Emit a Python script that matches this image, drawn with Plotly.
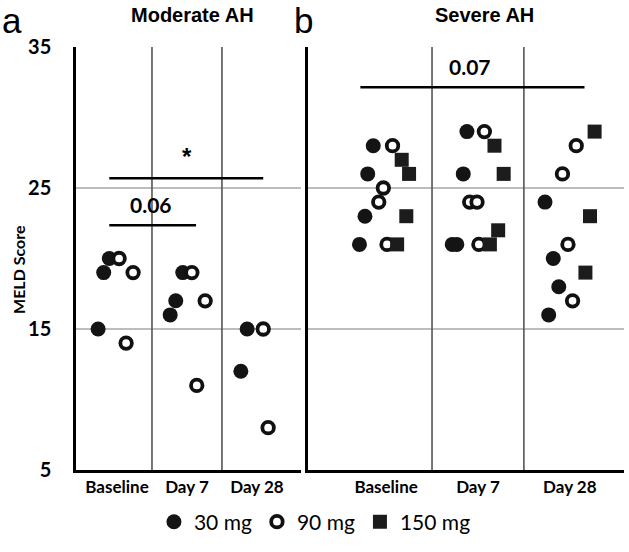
import plotly.graph_objects as go

timepoints = ["Baseline", "Day 7", "Day 28"]
doses = ["30 mg", "90 mg", "150 mg"]
y_ticks = [5, 15, 25, 35]

# MELD scores per timepoint (Baseline, Day 7, Day 28)
moderate_30mg = [[20, 19, 15], [19, 17, 16], [15, 12]]
moderate_90mg = [[20, 19, 14], [19, 17, 11], [15, 8]]

severe_30mg = [[28, 26, 23, 21], [29, 26, 21, 21], [24, 20, 18, 16]]
severe_90mg = [[28, 25, 24, 21], [29, 24, 24, 21], [28, 26, 21, 17]]
severe_150mg = [[27, 26, 23, 21], [28, 26, 22, 21], [29, 23, 19]]

# horizontal jitter within each timepoint
moderate_30mg_jitter = [[-0.11, -0.19, -0.27], [-0.06, -0.16, -0.24], [-0.14, -0.23]]
moderate_90mg_jitter = [[0.03, 0.23, 0.13], [0.07, 0.26, 0.14], [0.09, 0.16]]
severe_30mg_jitter = [[-0.14, -0.20, -0.23, -0.29], [-0.12, -0.16, -0.28, -0.23], [-0.27, -0.18, -0.12, -0.23]]
severe_90mg_jitter = [[0.07, -0.03, -0.08, 0.01], [0.07, -0.09, -0.01, 0.01], [0.07, -0.08, -0.02, 0.03]]
severe_150mg_jitter = [[0.17, 0.25, 0.22, 0.12], [0.18, 0.28, 0.22, 0.13], [0.27, 0.22, 0.17]]

# significance annotations: label, line start/end (in timepoint units), line level
bracket_labels = ["0.06", "*", "0.07"]
bracket_start = [-0.11, -0.11, -0.28]
bracket_end = [1.13, 2.09, 2.16]
bracket_level = [22.35, 25.7, 32.14]
bracket_label_x = [0.49, 1.0, 0.91]
bracket_axes = [("x", "y"), ("x", "y"), ("x2", "y2")]


def flatten(values, jitter):
    xs, ys = [], []
    for i, (vals, jit) in enumerate(zip(values, jitter)):
        for v, j in zip(vals, jit):
            xs.append(i + j)
            ys.append(v)
    return xs, ys


FILLED = dict(symbol="circle", size=15, color="#141414", line=dict(width=0))
OPEN = dict(symbol="circle", size=11.5, color="white", line=dict(color="#111", width=3.8))
SQUARE = dict(symbol="square", size=14, color="#1c1c1c", line=dict(width=0))

fig = go.Figure()

panels = [
    ("x", "y", [(moderate_30mg, moderate_30mg_jitter, doses[0], FILLED),
                (moderate_90mg, moderate_90mg_jitter, doses[1], OPEN)], False),
    ("x2", "y2", [(severe_30mg, severe_30mg_jitter, doses[0], FILLED),
                  (severe_90mg, severe_90mg_jitter, doses[1], OPEN),
                  (severe_150mg, severe_150mg_jitter, doses[2], SQUARE)], True),
]

for xa, ya, series, show in panels:
    for vals, jit, name, mk in series:
        xs, ys = flatten(vals, jit)
        fig.add_trace(go.Scatter(x=xs, y=ys, mode="markers", name=name, marker=mk,
                                 xaxis=xa, yaxis=ya, showlegend=show))

# vertical dividers between timepoints
for xa, ya in [("x", "y"), ("x2", "y2")]:
    for d in [0.5, 1.5]:
        fig.add_shape(type="line", xref=xa, yref=ya, x0=d, x1=d, y0=5, y1=35,
                      line=dict(color="#555", width=1.6))

# brackets
for label, x0, x1, yl, lx, (xa, ya) in zip(bracket_labels, bracket_start, bracket_end,
                                           bracket_level, bracket_label_x, bracket_axes):
    fig.add_shape(type="line", xref=xa, yref=ya, x0=x0, x1=x1, y0=yl, y1=yl,
                  line=dict(color="black", width=2.5))
    if label == "*":
        font = dict(family="Liberation Sans", size=24, color="black")
    else:
        font = dict(family="Lato", size=21, color="black")
    fig.add_annotation(x=lx, y=yl + 0.45, xref=xa, yref=ya, text="<b>%s</b>" % label,
                       showarrow=False, xanchor="center", yanchor="bottom", font=font)

axis_common = dict(showline=True, linecolor="black", linewidth=2.5, zeroline=False)

fig.update_layout(
    width=629, height=552,
    margin=dict(l=76, r=5, t=47, b=82),
    plot_bgcolor="white", paper_bgcolor="white",
    font=dict(family="Lato", color="black"),
    xaxis=dict(domain=[0, 0.4106], range=[-0.586, 2.63], tickvals=[0, 1, 2],
               ticktext=["<b>%s</b>" % t for t in timepoints], ticks="", showgrid=False,
               tickfont=dict(size=17), anchor="y", **axis_common),
    xaxis2=dict(domain=[0.4234, 1], range=[-0.85, 2.59], tickvals=[0, 1, 2],
                ticktext=["<b>%s</b>" % t for t in timepoints], ticks="", showgrid=False,
                tickfont=dict(size=17), anchor="y2", **axis_common),
    yaxis=dict(range=[5, 35], tickvals=y_ticks, ticktext=["<b>%d</b>" % v for v in y_ticks],
               ticks="", ticklabelstandoff=18, tickfont=dict(size=20),
               showgrid=True, gridcolor="#bdbdbd", gridwidth=1.5, anchor="x", **axis_common),
    yaxis2=dict(range=[5, 35], tickvals=y_ticks, showticklabels=False, ticks="",
                showgrid=True, gridcolor="#bdbdbd", gridwidth=1.5, anchor="x2", **axis_common),
    legend=dict(orientation="h", x=0.436, xanchor="center", y=-0.123, yanchor="middle",
                font=dict(size=21, family="Lato"), tracegroupgap=0,
                bgcolor="rgba(0,0,0,0)"),
    showlegend=True,
)

fig.add_annotation(x=-0.106, y=0.475, xref="paper", yref="paper", text="<b>MELD Score</b>",
                   textangle=-90, showarrow=False, xanchor="center", yanchor="middle",
                   font=dict(size=16, family="Lato"))
fig.add_annotation(x=0.212, y=1.075, xref="paper", yref="paper", text="<b>Moderate AH</b>",
                   showarrow=False, xanchor="center", yanchor="middle",
                   font=dict(size=20, family="Liberation Sans"))
fig.add_annotation(x=0.746, y=1.075, xref="paper", yref="paper", text="<b>Severe AH</b>",
                   showarrow=False, xanchor="center", yanchor="middle",
                   font=dict(size=20, family="Liberation Sans"))
fig.add_annotation(x=-0.117, y=1.062, xref="paper", yref="paper", text="a",
                   showarrow=False, xanchor="center", yanchor="middle",
                   font=dict(size=35, family="Liberation Sans"))
fig.add_annotation(x=0.416, y=1.062, xref="paper", yref="paper", text="b",
                   showarrow=False, xanchor="center", yanchor="middle",
                   font=dict(size=35, family="Liberation Sans"))

fig.write_html("out.html", config={"displayModeBar": False},
               post_script="document.body.style.margin='0';document.body.style.overflow='hidden';")
